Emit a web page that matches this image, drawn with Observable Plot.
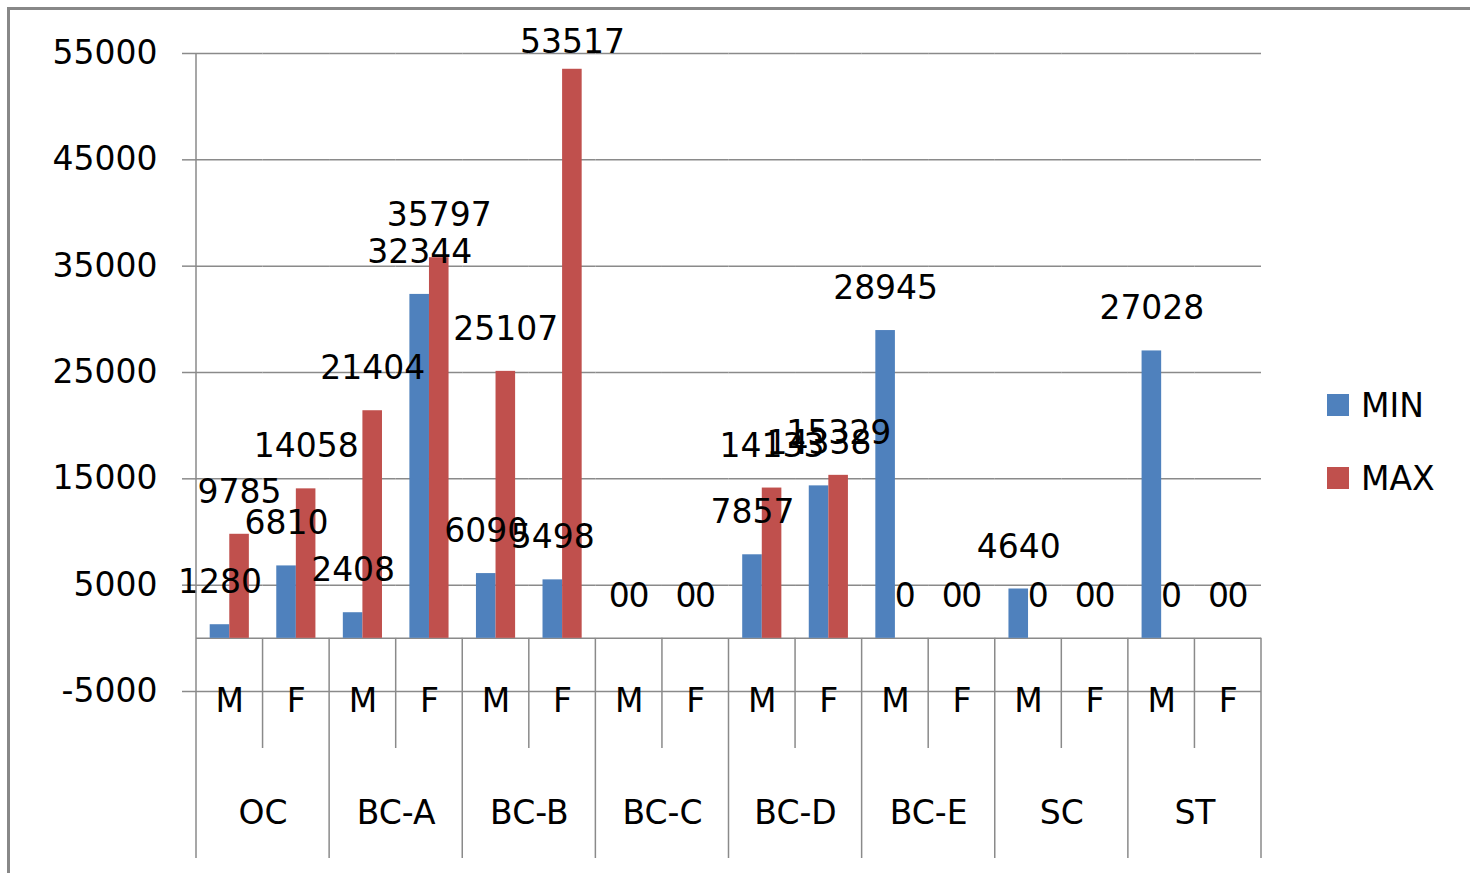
<!DOCTYPE html>
<html>
<head>
<meta charset="utf-8">
<script src="https://cdn.jsdelivr.net/npm/d3@7"></script>
<script src="https://cdn.jsdelivr.net/npm/@observablehq/plot@0.6"></script>
<style>
  html, body { margin: 0; padding: 0; background: #fff; }
  #wrap { position: relative; width: 1470px; height: 873px; overflow: hidden; font-family: "DejaVu Sans", sans-serif; }
  #border { position: absolute; left: 7px; top: 7px; width: 1500px; height: 900px; border-left: 3px solid #888; border-top: 3px solid #888; box-sizing: border-box; }
  #chart { position: absolute; left: 0; top: 0; }
  .legend { position: absolute; left: 1327px; top: 394px; font-size: 33px; color: #000; }
  .legend .item { display: flex; align-items: center; height: 22px; margin-bottom: 51px; }
  .legend .sw { width: 22px; height: 22px; margin-right: 12px; }
</style>
</head>
<body>
<div id="wrap">
  <div id="border"></div>
  <div id="chart"></div>
  <div class="legend" id="legend"></div>
</div>
<script>
const groups = ["OC", "BC-A", "BC-B", "BC-C", "BC-D", "BC-E", "SC", "ST"];
const sexes = ["M", "F"];
const seriesNames = ["MIN", "MAX"];
const seriesColors = ["#4F81BD", "#C0504D"];
const minValues = [1280, 6810, 2408, 32344, 6090, 5498, 0, 0, 7857, 14338, 28945, 0, 4640, 0, 27028, 0];
const maxValues = [9785, 14058, 21404, 35797, 25107, 53517, 0, 0, 14133, 15329, 0, 0, 0, 0, 0, 0];
const yTicks = [-5000, 5000, 15000, 25000, 35000, 45000, 55000];

const subs = [];
groups.forEach(g => sexes.forEach(s => subs.push({key: g + "|" + s, group: g, sex: s})));
const keys = subs.map(d => d.key);
const rows = [];
subs.forEach((d, i) => {
  rows.push({key: d.key, series: "MIN", value: minValues[i]});
  rows.push({key: d.key, series: "MAX", value: maxValues[i]});
});

const W = 1470, H = 873;
const gray = "#8a8a8a";
const labelCeiling = 52000; // labels of taller bars are kept inside the chart area
const fmt = d => String(d.value);

const plot = Plot.plot({
  width: W,
  height: H,
  marginLeft: 196,
  marginRight: 209,
  marginTop: 53,
  marginBottom: 182,
  style: {fontFamily: "DejaVu Sans", fontSize: "33px", color: "#000", background: "transparent", overflow: "visible"},
  fx: {domain: keys, padding: 0, round: false, axis: null},
  x: {domain: seriesNames, paddingInner: 0, paddingOuter: 0.7, round: false, axis: null},
  y: {domain: [-5000, 55000]},
  color: {domain: seriesNames, range: seriesColors},
  marks: [
    Plot.ruleY(yTicks, {stroke: gray, strokeWidth: 1.5}),
    Plot.ruleY([0], {stroke: gray, strokeWidth: 1.5}),
    Plot.axisY(yTicks, {tickSize: 14, tickPadding: 25, stroke: gray, strokeWidth: 1.5, tickFormat: d => String(d), label: null, fill: "#000"}),
    Plot.barY(rows, {fx: "key", x: "series", y: "value", fill: "series"}),
    Plot.text(rows.filter(d => d.value <= labelCeiling), {fx: "key", x: "series", y: "value", text: fmt, dy: -42, fill: "#000"}),
    Plot.text(rows.filter(d => d.value > labelCeiling), {fx: "key", x: "series", frameAnchor: "top", lineAnchor: "middle", text: fmt, dy: -11.5, fill: "#000"}),
    Plot.text(subs, {fx: "key", text: "sex", frameAnchor: "bottom", lineAnchor: "middle", dy: 10, fill: "#000"}),
    Plot.text(subs.filter(d => d.sex === "M"), {fx: "key", text: "group", frameAnchor: "bottom-right", lineAnchor: "middle", textAnchor: "middle", dy: 122, fill: "#000"})
  ]
});

// category separators drawn from the plot's own scales
const fxDesc = plot.scale("fx");
const yDesc = plot.scale("y");
const fxScale = typeof fxDesc.apply === "function" ? fxDesc.apply : d3.scaleBand(fxDesc.domain, fxDesc.range).paddingInner(fxDesc.paddingInner).paddingOuter(fxDesc.paddingOuter).align(fxDesc.align);
const yScale = typeof yDesc.apply === "function" ? yDesc.apply : d3.scaleLinear(yDesc.domain, yDesc.range);
const bw = fxDesc.bandwidth;
const yBase = yScale(0);
const yBottom = H - 15;
const yMid = yScale(-5000) + 57;
const lines = [];
lines.push({x: fxScale(keys[0]), y1: yScale(55000), y2: yBottom});
subs.forEach((d, i) => {
  if (d.sex === "M" && i > 0) lines.push({x: fxScale(d.key), y1: yBase, y2: yBottom});
  if (d.sex === "F") lines.push({x: fxScale(d.key), y1: yBase, y2: yMid});
});
lines.push({x: fxScale(keys[keys.length - 1]) + bw, y1: yBase, y2: yBottom});
d3.select(plot).append("g")
  .attr("stroke", gray).attr("stroke-width", 1.5)
  .selectAll("line").data(lines).join("line")
  .attr("x1", d => d.x).attr("x2", d => d.x)
  .attr("y1", d => d.y1).attr("y2", d => d.y2);

document.getElementById("chart").appendChild(plot);

const legend = document.getElementById("legend");
seriesNames.forEach((s, i) => {
  const item = document.createElement("div");
  item.className = "item";
  const sw = document.createElement("div");
  sw.className = "sw";
  sw.style.background = seriesColors[i];
  const label = document.createElement("span");
  label.textContent = s;
  item.appendChild(sw);
  item.appendChild(label);
  legend.appendChild(item);
});
</script>
</body>
</html>
